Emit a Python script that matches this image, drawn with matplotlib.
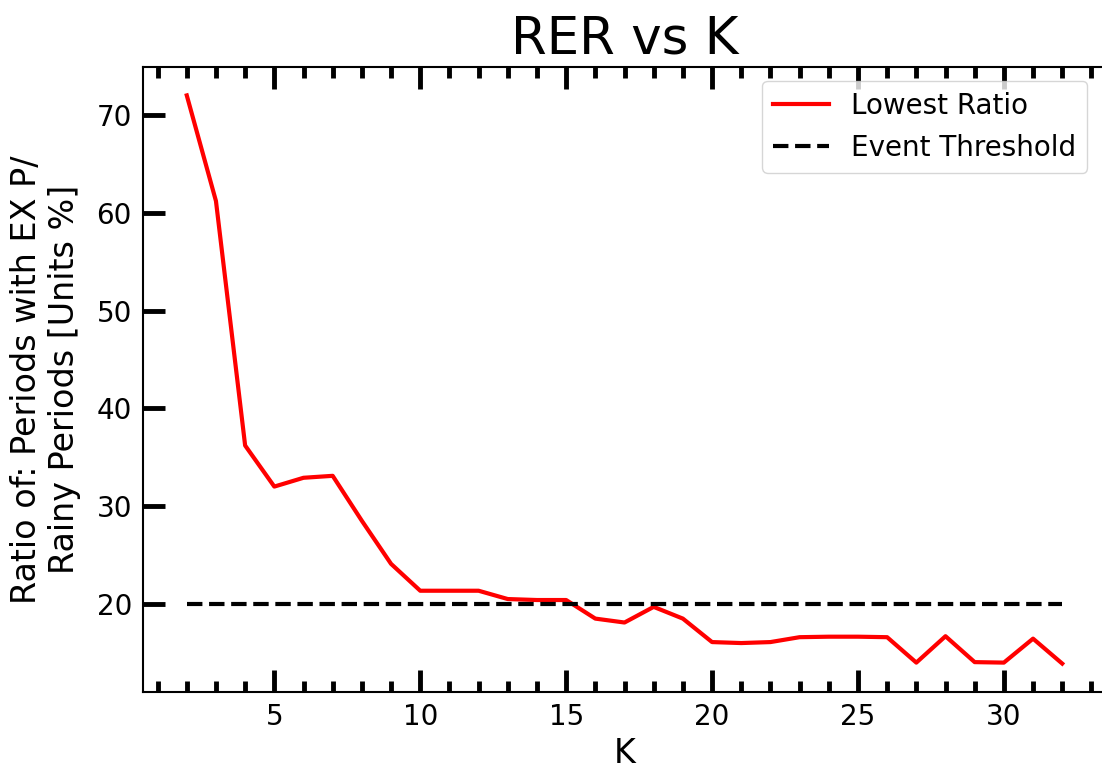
import numpy as np
import matplotlib.pyplot as plt
from matplotlib.ticker import MultipleLocator

k = np.arange(2, 33)
lowest_ratio = [72.0, 61.2, 36.2, 32.0, 32.9, 33.1, 28.5, 24.1, 21.35, 21.35,
                21.35, 20.5, 20.4, 20.4, 18.5, 18.1, 19.7, 18.5, 16.1, 16.0,
                16.1, 16.6, 16.65, 16.65, 16.6, 14.0, 16.7, 14.05, 14.0, 16.45,
                13.9]
threshold = 20

fig = plt.figure(figsize=(11.02, 7.72), dpi=100)
ax = fig.add_axes([143/1102, 1 - 692/772, 963/1102, 625/772])

ax.plot(k, lowest_ratio, color='red', lw=3, label='Lowest Ratio')
ax.plot([k[0], k[-1]], [threshold, threshold], 'k--', lw=3, label='Event Threshold')

ax.set_title('RER vs K', fontsize=37, pad=10)
ax.set_xlabel('K', fontsize=24)
ax.set_ylabel('Ratio of: Periods with EX P/\nRainy Periods [Units %]', fontsize=24, labelpad=11)

ax.xaxis.set_major_locator(MultipleLocator(5))
ax.xaxis.set_minor_locator(MultipleLocator(1))
ax.yaxis.set_major_locator(MultipleLocator(10))
ax.tick_params(which='both', direction='in', top=True, labelsize=20, width=3.5)
ax.tick_params(which='major', length=16, pad=8)
ax.tick_params(which='minor', length=8)
ax.tick_params(axis='y', which='minor', left=False, right=False)
for s in ax.spines.values():
    s.set_linewidth(1.5)

ax.legend(loc='upper right', fontsize=20, borderaxespad=0.5, bbox_to_anchor=(0.995, 1.0))

fig.savefig('out.png', dpi=100)
